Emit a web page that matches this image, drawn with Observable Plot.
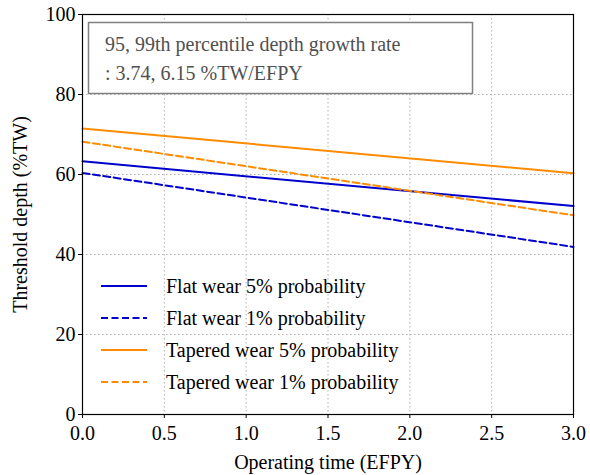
<!DOCTYPE html>
<html>
<head>
<script src="https://cdn.jsdelivr.net/npm/d3@7"></script>
<script src="https://cdn.jsdelivr.net/npm/@observablehq/plot@0.6"></script>
</head>
<body style="margin:0;background:#fff">
<div id="chart"></div>
<script>
// Operating time (EFPY) at the line ends, and threshold depth (%TW) per case
const years = [0, 3];
const flat5 = [63.3, 52.1];
const flat1 = [60.4, 41.9];
const tapered5 = [71.5, 60.3];
const tapered1 = [68.2, 49.8];

const seriesNames = [
  "Flat wear 5% probability",
  "Flat wear 1% probability",
  "Tapered wear 5% probability",
  "Tapered wear 1% probability"
];
const seriesValues = [flat5, flat1, tapered5, tapered1];
const seriesColors = ["#0000cd", "#0000cd", "#ff8c00", "#ff8c00"];
const seriesDashes = [null, "7,3.5", null, "7,3.5"];

const xTicks = [0, 0.5, 1, 1.5, 2, 2.5, 3];
const yTicks = [0, 20, 40, 60, 80, 100];
const noteLines = ["95, 99th percentile depth growth rate", ": 3.74, 6.15 %TW/EFPY"];

const FONT = "Liberation Serif";
const SIZE = 20;

const lineMarks = seriesNames.map((name, i) =>
  Plot.line(years.map((t, j) => ({t, v: seriesValues[i][j]})), {
    x: "t", y: "v",
    stroke: seriesColors[i],
    strokeWidth: 2,
    strokeDasharray: seriesDashes[i]
  })
);

const chart = Plot.plot({
  width: 590,
  height: 475,
  marginLeft: 82,
  marginRight: 17,
  marginTop: 14,
  marginBottom: 61,
  x: {domain: [0, 3]},
  y: {domain: [0, 100]},
  marks: [
    Plot.gridX(xTicks, {stroke: "#b0b0b0", strokeOpacity: 1, strokeDasharray: "1.5,2.5"}),
    Plot.gridY(yTicks, {stroke: "#b0b0b0", strokeOpacity: 1, strokeDasharray: "1.5,2.5"}),
    ...lineMarks,
    Plot.axisX(xTicks, {
      tickFormat: d3.format(".1f"), tickSize: 4, tickPadding: 7, color: "black",
      label: "Operating time (EFPY)", labelAnchor: "center", labelArrow: "none", labelOffset: 54
    }),
    Plot.axisY(yTicks, {
      tickSize: 4, tickPadding: 3, color: "black",
      label: "Threshold depth (%TW)", labelAnchor: "center", labelArrow: "none", labelOffset: 70
    }),
    Plot.frame({stroke: "black", strokeWidth: 1.2})
  ]
});

document.getElementById("chart").append(chart);

const svg = d3.select(chart);

// Growth-rate note in a grey box at the top left of the frame
const note = svg.append("g").attr("fill", "#505050").attr("text-anchor", "start");
note.append("rect")
  .attr("x", 88.5).attr("y", 22.5).attr("width", 384).attr("height", 71)
  .attr("fill", "white").attr("stroke", "#808080").attr("stroke-width", 1.5);
noteLines.forEach((s, i) => {
  note.append("text").attr("x", 105).attr("y", 51 + i * 29).text(s);
});

// Legend without a frame, lower left
const legend = svg.append("g").attr("fill", "black").attr("text-anchor", "start");
seriesNames.forEach((name, i) => {
  const y = 286 + i * 32;
  legend.append("line")
    .attr("x1", 101).attr("x2", 147).attr("y1", y).attr("y2", y)
    .attr("stroke", seriesColors[i]).attr("stroke-width", 2)
    .attr("stroke-dasharray", seriesDashes[i]);
  legend.append("text").attr("x", 166).attr("y", y).attr("dy", "0.35em").text(name);
});

// Serif type for every text: the svg root carries Plot's sans-serif defaults,
// so replace them there and on each group and text node
function serifize(root) {
  root.removeAttribute("font-family");
  root.setAttribute("font-family", FONT);
  root.setAttribute("font-size", SIZE);
  root.style.setProperty("font-family", FONT, "important");
  root.style.setProperty("font-size", SIZE + "px", "important");
  root.querySelectorAll("g, text, tspan").forEach(el => {
    if (el.hasAttribute("font-family")) el.setAttribute("font-family", FONT);
    if (el.hasAttribute("font-size")) el.setAttribute("font-size", SIZE);
    el.style.setProperty("font-family", FONT, "important");
    el.style.setProperty("font-size", SIZE + "px", "important");
  });
}
serifize(chart);
</script>
</body>
</html>
